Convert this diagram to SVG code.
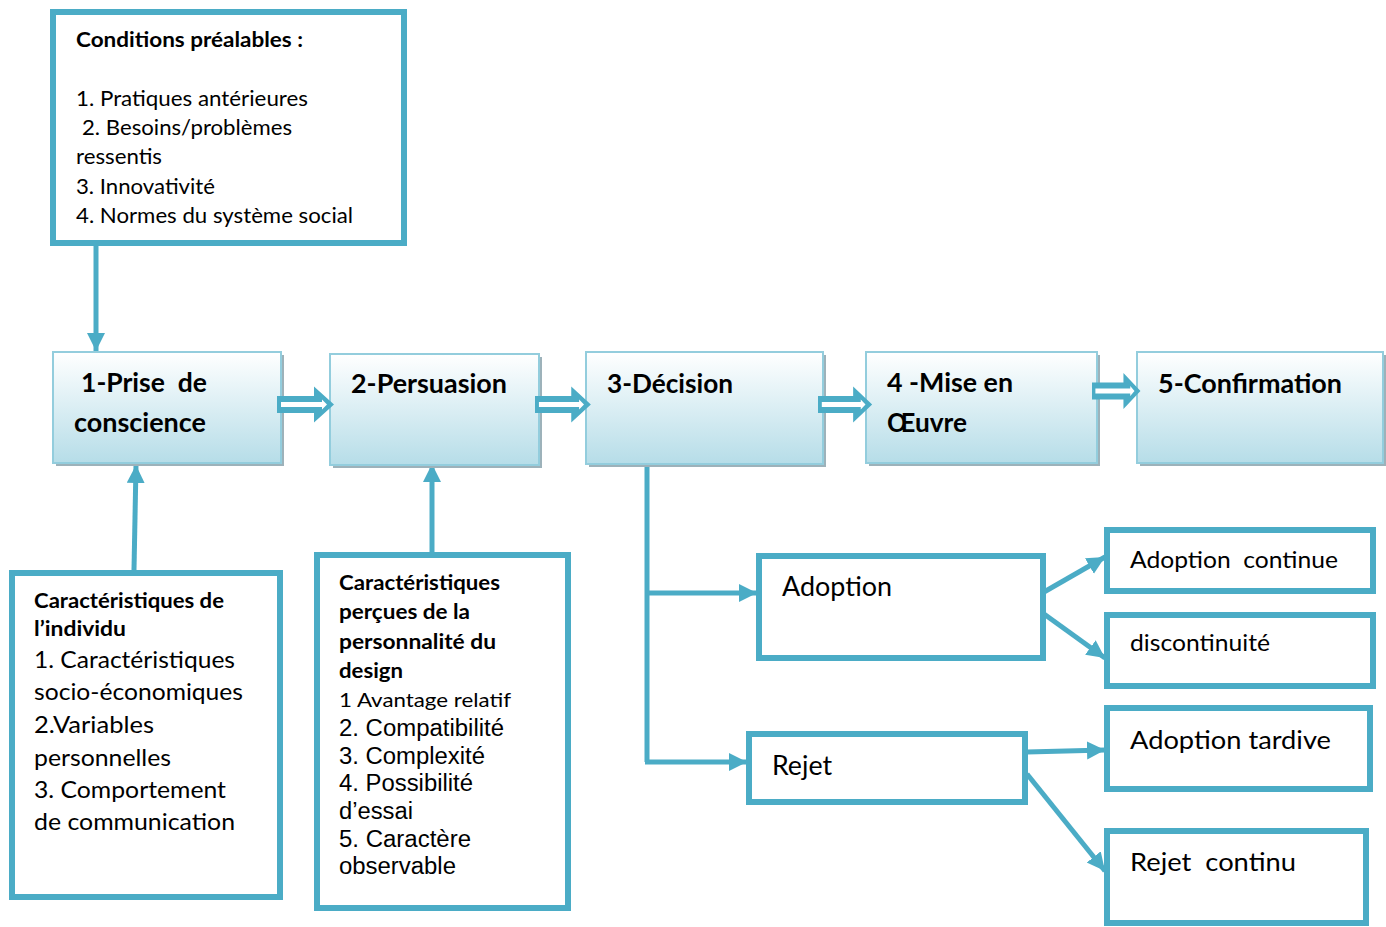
<svg xmlns="http://www.w3.org/2000/svg" width="1386" height="927" viewBox="0 0 1386 927">
<style>
.box{fill:#fff;stroke:#4bacc6;stroke-width:6}
.stage{fill:url(#g);stroke:#93cddd;stroke-width:2}
.shadow{fill:#9db2ba}
.t{font-family:Lato,"Open Sans",sans-serif;fill:#000}
.b{font-weight:bold}
.a{font-family:"Liberation Sans",Arial,sans-serif;fill:#000;font-size:23px}
.con{stroke:#4bacc6;stroke-width:5;fill:none}
</style>
<defs>
<linearGradient id="g" x1="0" y1="0" x2="0" y2="1">
<stop offset="0" stop-color="#ffffff"/>
<stop offset="1" stop-color="#b6dde8"/>
</linearGradient>
<marker id="ah" markerUnits="userSpaceOnUse" markerWidth="20" markerHeight="20" refX="18" refY="9" orient="auto">
<path d="M0,0 L18,9 L0,18 z" fill="#4bacc6"/>
</marker>
<g id="blockArrow">
<path fill="#4bacc6" d="M0,-8.5 H37 V-18 L57,0 L37,18 V8.5 H0 Z"/>
<path fill="#fff" d="M4,-2.5 H45 V-5 L50,0 L45,5 V2.5 H4 Z"/>
</g>
</defs>

<g id="connectors">
<line class="con" x1="96" y1="246" x2="96" y2="351" marker-end="url(#ah)"/>
<line class="con" x1="134" y1="570" x2="136" y2="465" marker-end="url(#ah)"/>
<line class="con" x1="432" y1="553" x2="432" y2="464" marker-end="url(#ah)"/>
<polyline class="con" points="647,464 647,762"/>
<line class="con" x1="645" y1="593" x2="757" y2="593" marker-end="url(#ah)"/>
<line class="con" x1="645" y1="762" x2="747" y2="762" marker-end="url(#ah)"/>
<line class="con" x1="1044" y1="592" x2="1105" y2="557" marker-end="url(#ah)"/>
<line class="con" x1="1044" y1="614" x2="1105" y2="658" marker-end="url(#ah)"/>
<line class="con" x1="1027" y1="752" x2="1105" y2="750" marker-end="url(#ah)"/>
<line class="con" x1="1027" y1="774" x2="1105" y2="871" marker-end="url(#ah)"/>
</g>

<g id="conditions">
<rect class="box" x="53" y="12" width="351" height="231"/>
<text class="t b" font-size="21" x="76" y="47" textLength="227" lengthAdjust="spacingAndGlyphs">Conditions préalables :</text>
<text class="t" font-size="21" x="76" y="106" textLength="232" lengthAdjust="spacingAndGlyphs">1. Pratiques antérieures</text>
<text class="t" font-size="21" x="82" y="135" textLength="210" lengthAdjust="spacingAndGlyphs">2. Besoins/problèmes</text>
<text class="t" font-size="21" x="76" y="164" textLength="86" lengthAdjust="spacingAndGlyphs">ressentis</text>
<text class="t" font-size="21" x="76" y="194" textLength="139" lengthAdjust="spacingAndGlyphs">3. Innovativité</text>
<text class="t" font-size="21" x="76" y="223" textLength="277" lengthAdjust="spacingAndGlyphs">4. Normes du système social</text>
</g>

<g id="stage1">
<rect class="shadow" x="56" y="355" width="228" height="111"/>
<rect class="stage" x="53" y="352" width="228" height="111"/>
<text class="t b" font-size="26" x="81" y="392" textLength="126" lengthAdjust="spacingAndGlyphs" xml:space="preserve">1-Prise  de</text>
<text class="t b" font-size="26" x="74" y="432" textLength="132" lengthAdjust="spacingAndGlyphs">conscience</text>
</g>
<g id="stage2">
<rect class="shadow" x="333" y="357" width="209" height="111"/>
<rect class="stage" x="330" y="354" width="209" height="111"/>
<text class="t b" font-size="26" x="351" y="393" textLength="156" lengthAdjust="spacingAndGlyphs">2-Persuasion</text>
</g>
<g id="stage3">
<rect class="shadow" x="589" y="355" width="237" height="112"/>
<rect class="stage" x="586" y="352" width="237" height="112"/>
<text class="t b" font-size="26" x="607" y="393" textLength="126" lengthAdjust="spacingAndGlyphs">3-Décision</text>
</g>
<g id="stage4">
<rect class="shadow" x="869" y="355" width="231" height="111"/>
<rect class="stage" x="866" y="352" width="231" height="111"/>
<text class="t b" font-size="26" x="887" y="392" textLength="126" lengthAdjust="spacingAndGlyphs">4 -Mise en</text>
<text class="t b" font-size="26" x="887" y="432" textLength="80" lengthAdjust="spacingAndGlyphs">Œuvre</text>
</g>
<g id="stage5">
<rect class="shadow" x="1140" y="355" width="246" height="111"/>
<rect class="stage" x="1137" y="352" width="246" height="111"/>
<text class="t b" font-size="26" x="1158" y="393" textLength="184" lengthAdjust="spacingAndGlyphs">5-Confirmation</text>
</g>

<g id="stage-arrows">
<use href="#blockArrow" transform="translate(277,404.5)"/>
<use href="#blockArrow" transform="translate(535,404.5) scale(0.98,1)"/>
<use href="#blockArrow" transform="translate(818,404.5) scale(0.95,1)"/>
<use href="#blockArrow" transform="translate(1092,391) scale(0.85,1)"/>
</g>

<g id="individu">
<rect class="box" x="12" y="573" width="268" height="324"/>
<text class="t b" font-size="21" x="34" y="608" textLength="190" lengthAdjust="spacingAndGlyphs">Caractéristiques de</text>
<text class="t b" font-size="21" x="34" y="636" textLength="92" lengthAdjust="spacingAndGlyphs">l’individu</text>
<text class="t" font-size="24" x="34" y="668" textLength="201" lengthAdjust="spacingAndGlyphs">1. Caractéristiques</text>
<text class="t" font-size="24" x="34" y="700" textLength="209" lengthAdjust="spacingAndGlyphs">socio-économiques</text>
<text class="t" font-size="24" x="34" y="733" textLength="120" lengthAdjust="spacingAndGlyphs">2.Variables</text>
<text class="t" font-size="24" x="34" y="766" textLength="137" lengthAdjust="spacingAndGlyphs">personnelles</text>
<text class="t" font-size="24" x="34" y="798" textLength="192" lengthAdjust="spacingAndGlyphs">3. Comportement</text>
<text class="t" font-size="24" x="34" y="830" textLength="201" lengthAdjust="spacingAndGlyphs">de communication</text>
</g>

<g id="design">
<rect class="box" x="317" y="555" width="251" height="353"/>
<text class="t b" font-size="21" x="339" y="590" textLength="161" lengthAdjust="spacingAndGlyphs">Caractéristiques</text>
<text class="t b" font-size="21" x="339" y="619" textLength="131" lengthAdjust="spacingAndGlyphs">perçues de la</text>
<text class="t b" font-size="21" x="339" y="649" textLength="157" lengthAdjust="spacingAndGlyphs">personnalité du</text>
<text class="t b" font-size="21" x="339" y="678" textLength="64" lengthAdjust="spacingAndGlyphs">design</text>
<text class="t" font-size="20" x="339" y="707" textLength="172" lengthAdjust="spacingAndGlyphs">1 Avantage relatif</text>
<text class="a" x="339" y="736" textLength="165" lengthAdjust="spacingAndGlyphs">2. Compatibilité</text>
<text class="a" x="339" y="764" textLength="146" lengthAdjust="spacingAndGlyphs">3. Complexité</text>
<text class="a" x="339" y="791" textLength="134" lengthAdjust="spacingAndGlyphs">4. Possibilité</text>
<text class="a" x="339" y="819" textLength="74" lengthAdjust="spacingAndGlyphs">d’essai</text>
<text class="a" x="339" y="847" textLength="132" lengthAdjust="spacingAndGlyphs">5. Caractère</text>
<text class="a" x="339" y="874" textLength="117" lengthAdjust="spacingAndGlyphs">observable</text>
</g>

<g id="adoption">
<rect class="box" x="759" y="556" width="284" height="102"/>
<text class="t" font-size="26" x="782" y="596" textLength="110" lengthAdjust="spacingAndGlyphs">Adoption</text>
</g>
<g id="rejet">
<rect class="box" x="749" y="734" width="276" height="68"/>
<text class="t" font-size="26" x="772" y="775" textLength="60" lengthAdjust="spacingAndGlyphs">Rejet</text>
</g>
<g id="adoption-continue">
<rect class="box" x="1107" y="530" width="266" height="61"/>
<text class="t" font-size="23" x="1130" y="568" textLength="208" lengthAdjust="spacingAndGlyphs" xml:space="preserve">Adoption  continue</text>
</g>
<g id="discontinuite">
<rect class="box" x="1107" y="615" width="266" height="71"/>
<text class="t" font-size="23" x="1130" y="651" textLength="140" lengthAdjust="spacingAndGlyphs">discontinuité</text>
</g>
<g id="adoption-tardive">
<rect class="box" x="1107" y="708" width="263" height="81"/>
<text class="t" font-size="25" x="1130" y="749" textLength="201" lengthAdjust="spacingAndGlyphs">Adoption tardive</text>
</g>
<g id="rejet-continu">
<rect class="box" x="1107" y="831" width="259" height="92"/>
<text class="t" font-size="25" x="1130" y="871" textLength="166" lengthAdjust="spacingAndGlyphs" xml:space="preserve">Rejet  continu</text>
</g>
</svg>
